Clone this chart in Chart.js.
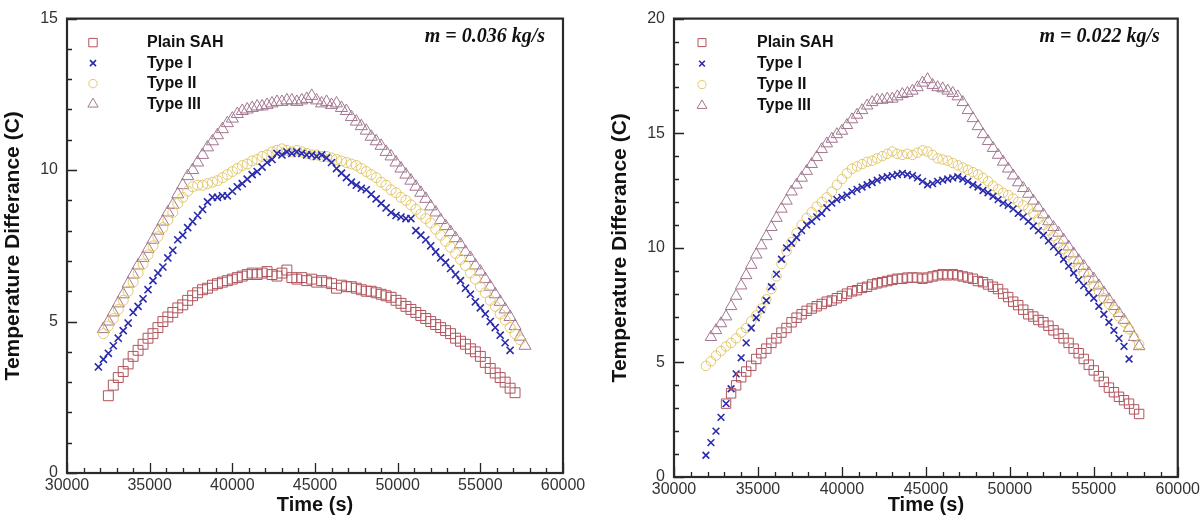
<!DOCTYPE html>
<html>
<head>
<meta charset="utf-8">
<script src="https://cdn.jsdelivr.net/npm/chart.js@4.4.0/dist/chart.umd.min.js"></script>
<style>
  html, body { margin: 0; padding: 0; background: #fff; }
  #wrap { position: relative; width: 1203px; height: 517px; overflow: hidden; }
  canvas { position: absolute; top: 0; }
  #chartL { left: 0; }
  #chartR { left: 600px; }
</style>
</head>
<body>
<div id="wrap">
  <canvas id="chartL" width="600" height="517"></canvas>
  <canvas id="chartR" width="603" height="517"></canvas>
</div>
<script>
// sample times (s), shared by both panels
const times = [31900,32200,32500,32800,33100,33400,33700,34000,34300,34600,
  34900,35200,35500,35800,36100,36400,36700,37000,37300,37600,
  37900,38200,38500,38800,39100,39400,39700,40000,40300,40600,
  40900,41200,41500,41800,42100,42400,42700,43000,43300,43600,
  43900,44200,44500,44800,45100,45400,45700,46000,46300,46600,
  46900,47200,47500,47800,48100,48400,48700,49000,49300,49600,
  49900,50200,50500,50800,51100,51400,51700,52000,52300,52600,
  52900,53200,53500,53800,54100,54400,54700,55000,55300,55600,
  55900,56200,56500,56800,57100,57400,57700];

const seriesNames = ['Plain SAH', 'Type I', 'Type II', 'Type III'];
const xTicks = [30000, 35000, 40000, 45000, 50000, 55000, 60000];

// left panel, m = 0.036 kg/s
const plainL = [null,null,2.55,2.9,3.15,3.35,3.6,3.85,4.05,4.25,
  4.45,4.6,4.8,5.0,5.15,5.3,5.45,5.55,5.7,5.85,
  5.95,6.05,6.1,6.2,6.25,6.3,6.35,6.4,6.45,6.5,
  6.55,6.6,6.55,6.6,6.65,6.55,6.5,6.6,6.7,6.45,
  6.4,6.45,6.35,6.4,6.3,6.35,6.3,6.25,6.1,6.2,
  6.15,6.15,6.1,6.05,6.0,6.0,5.95,5.9,5.85,5.8,
  5.7,5.6,5.5,5.4,5.3,5.2,5.1,5.0,4.9,4.8,
  4.7,4.6,4.45,4.35,4.25,4.1,4.0,3.85,3.65,3.45,
  3.3,3.15,3.0,2.8,2.65,null,null];
const type1L = [3.5,3.75,3.95,4.2,4.45,4.7,4.95,5.3,5.5,5.75,
  6.05,6.35,6.6,6.8,7.1,7.35,7.7,7.85,8.1,8.3,
  8.5,8.7,8.95,9.1,9.1,9.15,9.15,9.3,9.45,9.55,
  9.7,9.85,9.95,10.1,10.25,10.35,10.55,10.5,10.6,10.55,
  10.6,10.55,10.5,10.5,10.45,10.5,10.4,10.25,10.05,9.9,
  9.75,9.6,9.5,9.4,9.35,9.2,9.05,8.9,8.75,8.6,
  8.5,8.45,8.4,8.4,8.0,7.85,7.7,7.5,7.3,7.1,
  6.95,6.75,6.55,6.35,6.1,5.9,5.65,5.45,5.25,5.0,
  4.8,4.55,4.3,4.05,null,null,null];
const type2L = [null,4.6,4.85,5.1,5.4,5.7,6.0,6.3,6.6,6.9,
  7.2,7.5,7.8,8.1,8.35,8.6,8.9,9.1,9.3,9.45,
  9.5,9.5,9.55,9.6,9.65,9.75,9.85,9.95,10.05,10.15,
  10.2,10.3,10.35,10.45,10.5,10.6,10.65,10.7,10.65,10.6,
  10.65,10.6,10.55,10.5,10.5,10.45,10.45,10.4,10.35,10.3,
  10.25,10.2,10.15,10.05,9.95,9.85,9.75,9.6,9.5,9.35,
  9.25,9.1,9.0,8.85,8.7,8.55,8.4,8.25,8.05,7.85,
  7.65,7.45,7.25,7.05,6.85,6.6,6.4,6.15,5.95,5.7,
  5.5,5.25,5.05,4.8,4.6,4.4,null];
const type3L = [null,4.75,5.0,5.3,5.6,5.9,6.25,6.55,6.85,7.1,
  7.4,7.7,8.0,8.3,8.6,8.85,9.2,9.5,9.8,10.0,
  10.25,10.5,10.75,10.95,11.15,11.35,11.55,11.7,11.85,11.95,
  12.0,12.05,12.1,12.1,12.15,12.2,12.25,12.25,12.3,12.3,
  12.25,12.3,12.35,12.45,12.3,12.2,12.25,12.15,12.2,12.05,
  11.95,11.75,11.6,11.45,11.3,11.1,10.95,10.8,10.6,10.45,
  10.25,10.05,9.85,9.65,9.45,9.25,9.05,8.8,8.6,8.35,
  8.15,7.95,7.75,7.55,7.3,7.1,6.85,6.65,6.4,6.15,
  5.9,5.65,5.4,5.15,4.85,4.5,4.2];

// right panel, m = 0.022 kg/s
const plainR = [null,null,null,null,3.2,3.65,4.0,4.35,4.6,4.85,
  5.15,5.4,5.6,5.85,6.05,6.3,6.5,6.75,6.95,7.1,
  7.25,7.35,7.45,7.55,7.65,7.7,7.8,7.9,8.0,8.1,
  8.15,8.25,8.3,8.4,8.45,8.5,8.55,8.6,8.65,8.65,
  8.7,8.7,8.7,8.65,8.7,8.75,8.8,8.85,8.8,8.85,
  8.8,8.75,8.7,8.65,8.55,8.5,8.4,8.3,8.2,8.0,
  7.85,7.65,7.5,7.3,7.1,7.0,6.85,6.75,6.6,6.4,
  6.25,6.05,5.85,5.6,5.4,5.15,4.9,4.65,4.4,4.15,
  3.9,3.7,3.5,3.35,3.2,2.95,2.75];
const type1R = [0.95,1.5,2.0,2.6,3.2,3.85,4.5,5.2,5.85,6.5,
  6.95,7.3,7.7,8.3,8.85,9.5,10.0,10.2,10.45,10.75,
  11.0,11.15,11.35,11.5,11.75,11.95,12.1,12.2,12.3,12.45,
  12.55,12.65,12.75,12.85,12.95,13.05,13.1,13.15,13.2,13.25,
  13.2,13.15,13.05,12.9,12.75,12.8,12.9,12.95,13.0,13.05,
  13.1,13.0,12.9,12.75,12.65,12.5,12.4,12.25,12.1,11.95,
  11.85,11.7,11.5,11.35,11.15,10.95,10.75,10.55,10.3,10.05,
  9.8,9.5,9.2,8.9,8.6,8.35,8.05,7.8,7.45,7.1,
  6.75,6.4,6.05,5.7,5.15,null,null];
const type2R = [4.85,5.05,5.3,5.5,5.7,5.85,6.05,6.3,6.5,6.8,
  7.05,7.35,7.75,8.2,8.75,9.3,9.85,10.25,10.65,11.0,
  11.3,11.55,11.8,12.0,12.2,12.45,12.75,13.0,13.25,13.45,
  13.55,13.65,13.75,13.8,13.9,14.0,14.1,14.2,14.1,14.05,
  14.1,14.05,14.15,14.25,14.2,14.05,13.9,13.85,13.8,13.7,
  13.6,13.5,13.4,13.3,13.2,13.05,12.9,12.7,12.55,12.4,
  12.3,12.15,12.0,11.85,11.7,11.5,11.25,11.0,10.75,10.5,
  10.2,9.95,9.7,9.4,9.15,8.9,8.6,8.35,8.1,7.8,
  7.55,7.3,7.0,6.75,6.45,6.1,5.8];
const type3R = [null,6.1,6.4,6.7,7.0,7.45,7.9,8.35,8.8,9.25,
  9.7,10.1,10.5,10.9,11.3,11.7,12.05,12.45,12.75,13.05,
  13.35,13.65,13.95,14.3,14.55,14.75,14.95,15.1,15.35,15.6,
  15.8,16.0,16.2,16.35,16.45,16.45,16.5,16.5,16.6,16.7,
  16.75,16.85,17.0,17.2,17.35,17.1,17.0,16.95,16.85,16.75,
  16.6,16.35,16.0,15.65,15.3,14.95,14.65,14.35,14.05,13.75,
  13.45,13.15,12.85,12.6,12.35,12.05,11.75,11.45,11.15,10.9,
  10.65,10.35,10.05,9.75,9.45,9.2,8.9,8.65,8.35,8.05,
  7.75,7.45,7.15,6.85,6.5,6.1,5.7];

const SANS = '"Liberation Sans", Arial, sans-serif';
const styles = [
  { pointStyle: 'rect', color: '#b0545c', r: 7, w: 1 },
  { pointStyle: 'crossRot', color: '#2a2aac', r: 5, w: 1.6 },
  { pointStyle: 'circle', color: '#e2c86c', r: 5, w: 1 },
  { pointStyle: 'triangle', color: '#a27690', r: 7, w: 1 }
];

function toPoints(vals) {
  return times.map((t, i) => vals[i] == null ? null : { x: t, y: vals[i] }).filter(p => p);
}

// frame, inward tick marks, legend and the mass-flow note
const tecplotFrame = {
  id: 'tecplotFrame',
  afterDatasetsDraw(chart, args, opts) {
    const { ctx, chartArea: a } = chart;
    const xs = chart.scales.x, ys = chart.scales.y;
    ctx.save();
    ctx.strokeStyle = '#222';
    ctx.lineWidth = 1.3;
    ctx.beginPath();
    for (let v = xs.min; v <= xs.max; v += 1000) {
      const px = Math.round(xs.getPixelForValue(v)) + 0.5;
      const len = v % 5000 === 0 ? 10 : 5;
      ctx.moveTo(px, a.bottom);
      ctx.lineTo(px, a.bottom - len);
    }
    for (let v = ys.min; v <= ys.max; v += 1) {
      const py = Math.round(ys.getPixelForValue(v)) + 0.5;
      const len = v % 5 === 0 ? 10 : 5;
      ctx.moveTo(a.left, py);
      ctx.lineTo(a.left + len, py);
    }
    ctx.stroke();
    ctx.lineWidth = 2.2;
    ctx.strokeStyle = '#2a2a2a';
    ctx.strokeRect(a.left, a.top, a.right - a.left, a.bottom - a.top);

    // legend
    ctx.font = 'bold 16px ' + SANS;
    ctx.textBaseline = 'middle';
    ctx.textAlign = 'left';
    chart.data.datasets.forEach((ds, i) => {
      const y = a.top + opts.legTop + i * opts.legGap;
      ctx.strokeStyle = ds.borderColor;
      ctx.fillStyle = 'rgba(0,0,0,0)';
      ctx.lineWidth = ds.borderWidth;
      Chart.helpers.drawPoint(ctx, { pointStyle: ds.pointStyle, radius: ds.pointRadius * 0.85, rotation: 0, borderWidth: ds.borderWidth }, a.left + opts.markX, y);
      ctx.fillStyle = '#111';
      ctx.fillText(ds.label, a.left + opts.textX, y);
    });

    ctx.font = 'italic bold 20px "Liberation Serif", "Times New Roman", serif';
    ctx.textAlign = 'right';
    ctx.fillStyle = '#111';
    ctx.fillText(opts.note, a.right - 18, a.top + 18);
    ctx.restore();
  }
};

function buildChart(id, series, cfg) {
  const datasets = series.map((vals, i) => ({
    label: seriesNames[i],
    data: toPoints(vals),
    pointStyle: styles[i].pointStyle,
    pointRadius: styles[i].r * cfg.scale,
    borderColor: styles[i].color,
    backgroundColor: 'rgba(0,0,0,0)',
    borderWidth: styles[i].w,
    showLine: false
  }));
  return new Chart(document.getElementById(id), {
    type: 'scatter',
    data: { datasets },
    options: {
      responsive: false,
      animation: false,
      events: [],
      layout: { padding: cfg.padding },
      plugins: {
        legend: { display: false },
        tooltip: { enabled: false },
        tecplotFrame: cfg.frame
      },
      scales: {
        x: {
          type: 'linear', min: 30000, max: 60000,
          afterFit: s => { s.height = cfg.xh; },
          afterBuildTicks: s => { s.ticks = xTicks.map(v => ({ value: v })); },
          grid: { display: false, drawTicks: false },
          border: { display: false },
          ticks: { padding: 3, color: '#333', font: { family: SANS, size: 16 }, maxRotation: 0, autoSkip: false, callback: v => String(v) },
          title: { display: true, text: 'Time (s)', color: '#111', font: { family: SANS, size: 20, weight: 'bold' }, padding: { top: 0, bottom: 0 } }
        },
        y: {
          min: 0, max: cfg.ymax,
          afterFit: s => { s.width = cfg.yw; },
          grid: { display: false, drawTicks: false },
          border: { display: false },
          ticks: { stepSize: 5, padding: 9, color: '#333', font: { family: SANS, size: 16 } },
          title: { display: true, text: 'Temperature Differance (C)', color: '#111', font: { family: SANS, size: 21, weight: 'bold' }, padding: { top: cfg.ytp, bottom: 0 } }
        }
      }
    },
    plugins: [tecplotFrame]
  });
}

buildChart('chartL', [plainL, type1L, type2L, type3L], {
  padding: { left: 0, right: 37, top: 18, bottom: 0 },
  xh: 44, yw: 67, ytp: 1, ymax: 15, scale: 1,
  frame: { legTop: 24, legGap: 20.5, markX: 26, textX: 80, note: 'm = 0.036 kg/s' }
});

buildChart('chartR', [plainR, type1R, type2R, type3R], {
  padding: { left: 0, right: 25, top: 16, bottom: 0 },
  xh: 40, yw: 74, ytp: 8, ymax: 20, scale: 0.95,
  frame: { legTop: 24, legGap: 21, markX: 28, textX: 83, note: 'm = 0.022 kg/s' }
});
</script>
</body>
</html>
